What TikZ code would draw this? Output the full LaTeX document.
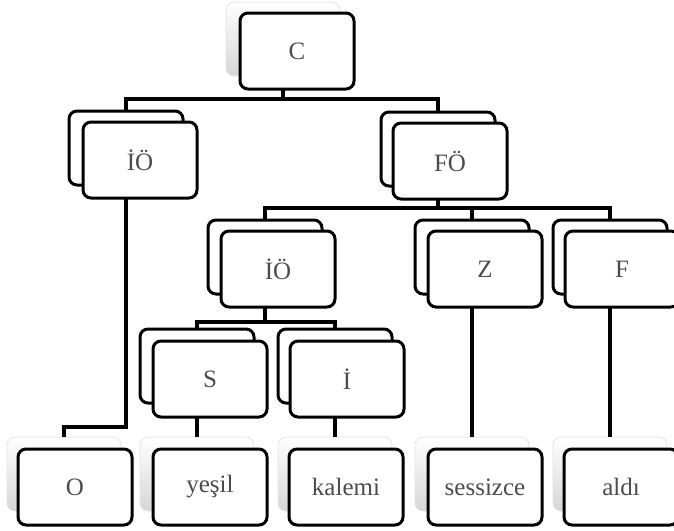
\documentclass[tikz,border=0pt]{standalone}
\usepackage{fontspec}
\setmainfont{Liberation Serif}
\begin{document}
\begin{tikzpicture}[x=1pt,y=-1pt,
  box/.style={draw=black, line width=3pt, rounded corners=8pt, fill=white,
    minimum width=114pt, minimum height=76pt, inner sep=0pt, outer sep=0pt,
    font=\fontsize{25}{28}\selectfont, text=black!70, anchor=north west},
  backbox/.style={draw=black, line width=3pt, rounded corners=8pt, fill=white,
    minimum width=114pt, minimum height=74pt, inner sep=0pt, outer sep=0pt, anchor=north west},
  softbox/.style={draw=gray!22, line width=0.8pt, rounded corners=8pt,
    top color=white, bottom color=gray!32,
    minimum width=114pt, minimum height=74pt, inner sep=0pt, outer sep=0pt, anchor=north west},
  conn/.style={line width=3.2pt}]
\useasboundingbox (0,0) rectangle (674,530);
\clip (0,0) rectangle (674,530);
% top
\node[softbox] (Cs) at (226,2) {};
\node[box] (C) at (240,13) {C};
% level 1
\node[backbox] (IO1b) at (69,111) {};
\node[box] (IO1) at (83,122) {İÖ};
\node[backbox] (FOb) at (381,112) {};
\node[box] (FO) at (393,123) {FÖ};
% level 2
\node[backbox] (IO2b) at (208,220) {};
\node[box] (IO2) at (221,231) {İÖ};
\node[backbox] (Zb) at (415,220) {};
\node[box] (Z) at (428,231) {Z};
\node[backbox] (Fb) at (553,220) {};
\node[box] (F) at (565,231) {F};
% level 3
\node[backbox] (Sb) at (140,329) {};
\node[box] (S) at (153,341) {S};
\node[backbox] (Ib) at (278,329) {};
\node[box] (I) at (290,341) {İ};
% bottom
\node[softbox] (Ob) at (7,437) {};
\node[box] (O) at (18,449) {O};
\node[softbox] (yb) at (140,437) {};
\node[box] (y) at (153,449) {yeşil};
\node[softbox] (kb) at (278,437) {};
\node[box] (k) at (289,449) {kalemi};
\node[softbox] (sb) at (415,437) {};
\node[box] (s) at (428,449) {sessizce};
\node[softbox] (ab) at (553,437) {};
\node[box] (a) at (564,449) {aldı};
% connectors
\draw[conn] (Cs.center |- C.south) -- ++(0,10) coordinate (b1);
\draw[conn] (IO1b.north) |- (b1) -| (FOb.north);
\draw[conn] (FOb.center |- FO.south) -- ++(0,9) coordinate (b2);
\draw[conn] (IO2b.north) |- (b2) -| (Fb.north);
\draw[conn] (Zb.north) |- (b2);
\draw[conn] (IO2b.center |- IO2.south) -- ++(0,15) coordinate (b3);
\draw[conn] (Sb.north) |- (b3) -| (Ib.north);
\draw[conn] (IO1b.center |- IO1.south) |- ([yshift=10pt]Ob.north) -- (Ob.north);
\draw[conn] (Sb.center |- S.south) -- (yb.north);
\draw[conn] (Ib.center |- I.south) -- (kb.north);
\draw[conn] (Zb.center |- Z.south) -- (sb.north);
\draw[conn] (Fb.center |- F.south) -- (ab.north);
\end{tikzpicture}
\end{document}
